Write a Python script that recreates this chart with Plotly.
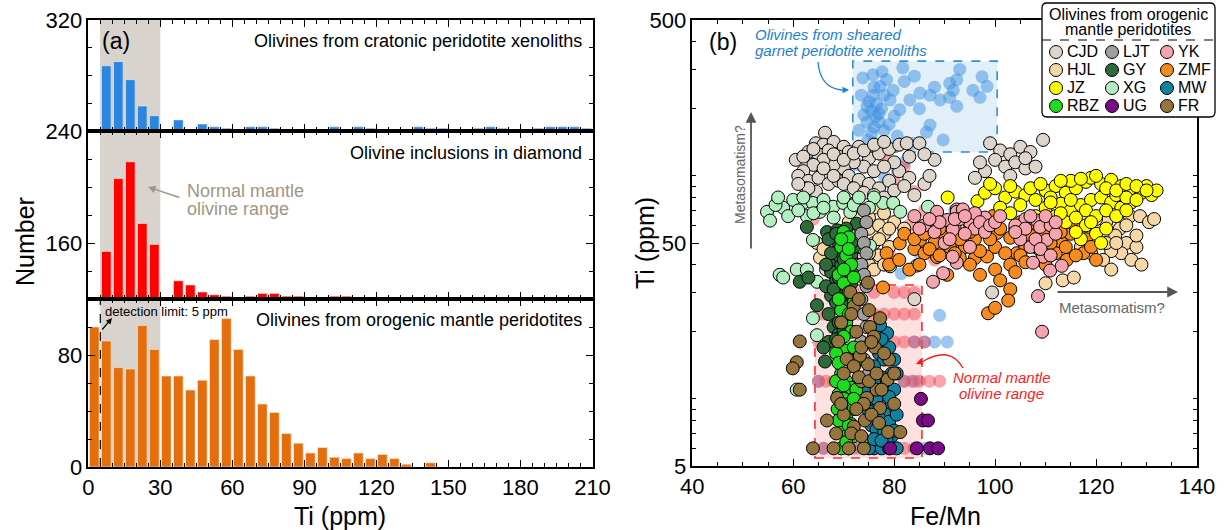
import plotly.graph_objects as go

W, H = 1226, 530

# ---------------- Panel (a): histogram data (5 ppm bins, 0-210 ppm) ----------------
bin_left = list(range(0, 210, 5))
cratonic_counts = [0, 47, 50, 37, 18, 11, 0, 8, 0, 5, 3, 2, 0, 3, 3, 2, 0, 0, 0, 0, 3, 0,
                   3, 2, 0, 0, 0, 3, 2, 2, 0, 0, 2, 3, 2, 0, 0, 2, 3, 3, 3, 2]
diamond_counts = [0, 34, 86, 98, 54, 39, 0, 13, 10, 5, 3, 2, 0, 2, 4, 4, 2, 2, 0, 0, 2, 2,
                  0, 0, 0, 0, 0, 0, 0, 0, 0, 0, 0, 0, 0, 0, 0, 0, 0, 0, 0, 0]
orogenic_counts = [100, 90, 71, 70, 101, 84, 65, 65, 55, 62, 91, 106, 84, 65, 45, 39, 24, 17,
                   10, 14, 7, 6, 10, 6, 9, 6, 2, 0, 3, 0, 0, 0, 0, 0, 0, 0, 0, 0, 0, 0, 0, 0]
panel_bases = [240, 120, 0]
y_tick_labels_a = ["0", "80", "160", "240", "320"]
x_tick_labels_a = ["0", "30", "60", "90", "120", "150", "180", "210"]

# ---------------- Panel (b): Fe/Mn vs Ti scatter ----------------
crat_fe = [73.8, 75.8, 77.6, 81.7, 77.2, 79.8, 83.1, 85.1, 87.1, 89.1, 91, 91.7, 92.4, 75.8, 76.5,
           75.5, 76.3, 77, 76, 75.5, 74.8, 76, 74.6, 74.6, 79.2, 81.1, 87.1, 86.4, 80.6, 89.7, 83.7,
           92.4, 95.6, 97.4, 98.4, 97, 91, 77.5, 78, 73.5, 74, 78.5, 80, 76, 78, 75, 77, 79, 73,
           80, 85, 88, 93, 82, 84,
           80.6, 73, 71, 78, 82, 78.5, 81.4, 89, 67, 70, 84, 86, 88, 90.5, 65, 82, 84, 64, 66, 73,
           84, 86, 76, 85, 92, 97]
crat_ti = [275, 284, 293, 305, 252, 242, 219, 235, 230, 219, 260, 242, 205, 230, 210,
           195, 185, 175, 165, 155, 145, 140, 205, 174, 219, 198, 169, 157, 151, 145, 140,
           270, 242, 278, 252, 225, 225, 200, 160, 230, 188, 270, 185, 250, 230, 215, 190, 170, 160,
           135, 200, 250, 300, 265, 280,
           106, 112, 105, 100, 115, 55.6, 36.4, 23.7, 18, 18, 18, 18, 18, 18, 12, 12, 12, 6, 6, 6,
           6, 6, 60, 45, 70, 60]
diam_fe = [70, 72, 76, 80, 82, 84, 66, 73, 76, 78, 80, 82, 84, 65, 74, 76, 78, 80, 82, 84, 86,
           65, 66.5, 68, 82, 83.5, 85, 87, 89, 66, 68, 70, 72, 74, 76, 78, 80, 82, 84,
           78, 82, 80, 84, 76, 86, 83, 64, 79, 88]
diam_ti = [30, 30, 30, 30, 30, 30, 24, 24, 24, 24, 24, 24, 24, 18, 18, 18, 18, 18, 18, 18, 18,
           12, 12, 12, 12, 12, 12, 12, 12, 6, 6, 6, 6, 6, 6, 6, 6, 6, 6,
           120, 110, 95, 85, 75, 70, 60, 64, 45, 42]

CJD_fe = [66.3, 64.5, 66, 68, 70, 63, 65, 67, 69, 71, 73, 75, 77, 79, 81, 74, 76, 72, 70, 68,
          66, 64, 62, 61, 63, 65, 67, 69, 71, 73, 75, 77, 79, 81, 83, 80, 78, 82.5, 85, 62.5,
          64.5, 86, 60.5, 99, 101, 103, 105, 107, 100, 102, 104, 106, 109.5, 98, 96, 99.4, 108,
          110.5, 95.5, 66.5, 84, 62, 64, 68, 70, 72, 74, 76, 78, 66, 68, 70, 72, 74, 76, 78, 80,
          82, 84, 87, 88, 86, 63, 61, 83, 97, 103, 106, 108]
CJD_ti = [156, 140, 138, 142, 135, 128, 125, 130, 122, 128, 135, 120, 126, 132, 138, 110, 105,
          115, 108, 112, 118, 112, 105, 100, 95, 98, 92, 95, 100, 96, 92, 88, 95, 105, 98, 115,
          110, 140, 140, 88, 85, 92, 118, 140, 130, 125, 135, 128, 118, 110, 115, 108, 145, 105,
          98, 30, 48, 60, 55, 38, 28, 122, 132, 125, 118, 126, 130, 138, 142, 108, 100, 92, 88,
          84, 82, 80, 86, 90, 82, 100, 118, 125, 88, 92, 122, 115, 100, 120, 110]
HJL_fe = [72, 74, 76, 73, 75, 77, 71, 72, 74, 76, 78, 73, 75, 77, 79, 70, 78, 80, 82, 76, 74,
          126.7, 128.7, 124.7, 123.8, 126, 128, 125, 127, 129, 123, 121.4, 123, 118, 120, 122,
          119, 113.4, 115.6, 130.5, 131.5, 117, 110, 64.7, 65.3, 66, 72, 73, 75, 77, 79, 71, 75,
          78, 124, 126, 128, 122, 120]
HJL_ti = [75, 70, 72, 62, 58, 60, 55, 50, 47, 50, 55, 42, 40, 44, 48, 45, 68, 62, 58, 38, 35,
          66, 66, 58, 54, 50, 48, 45, 42, 40, 46, 42, 38, 55, 58, 50, 45, 34, 35, 62, 64, 48, 33,
          50, 43, 47, 65, 68, 65, 52, 58, 62, 45, 40, 50, 60, 54, 62, 64]
XG_fe = [54.8, 55.4, 61.9, 63.9, 62.7, 65.3, 67.9, 69.9, 71.3, 63.9, 57.3, 58, 60.7, 62.7, 64.7,
         63.9, 64.7, 60.7, 77.8, 79.8, 81.2, 86.7, 79.2, 75.2, 84.5, 58, 60, 56.5, 59, 66, 68,
         57, 62, 64, 66, 70, 72, 73, 76, 75, 61]
XG_ti = [69, 63, 75.6, 75.6, 66, 69, 72.7, 75.6, 68.8, 51.6, 36, 35, 38, 38, 33.5, 23, 19.3, 11,
         75.6, 75.6, 69, 72.7, 39.3, 48.6, 39.6, 72, 78, 74, 66, 78, 65, 80, 80, 68, 72, 80, 74,
         80, 80, 72, 70]
GY_fe = [62.7, 66.7, 68.7, 72.6, 70.5, 71, 69, 70, 71.5, 68.5, 69.5, 70.5, 67.5, 68.5, 69.5,
         70.5, 67.5, 68.5, 69.5, 70.5, 68, 69, 67, 66, 64.7, 61.3, 63, 66.3, 72, 72.5, 71.5, 73,
         68, 66.5, 67, 67, 68.5, 70, 71.5, 69, 70, 71, 69, 68, 70, 71, 69, 70, 68.5, 67.5, 66.5]
GY_ti = [59, 56, 57, 61, 58, 52, 50, 47, 44, 42, 40, 38, 37, 34, 32, 30, 29, 27, 25, 23, 21,
         19.5, 18, 17, 26.3, 33.5, 35, 14.7, 48, 40, 33, 38, 45, 32, 24, 52, 55, 54, 50, 44, 42,
         36, 35, 31, 28, 26, 22, 20, 18.5, 45, 40]
LJT_fe = [74, 74.5, 73.5, 74, 74.5, 73.5, 74, 74.5, 73.5, 74, 74.5, 73.5, 74, 75, 73]
LJT_ti = [70, 62, 55, 50, 45, 40, 36, 32, 28, 24, 21, 18, 15, 13, 12]
RBZ_fe = [70, 71, 69.5, 70.5, 71.5, 69, 70, 71, 72, 69.5, 70.5, 71.5, 69, 70, 71, 72, 69.5, 70.5,
          71.5, 69, 70, 71, 72, 69.5, 70.5, 71.5, 70, 71, 72, 71, 68.5, 68.8, 72.5, 72.5, 68.5,
          69.5, 71, 70, 72, 69, 71, 70, 72, 69, 70, 72, 69, 71, 69.5, 70.5]
RBZ_ti = [56, 53, 48, 44, 40, 36, 33, 30, 27, 25, 22, 20, 18, 16.5, 15, 14, 13, 12, 11.2, 10.5,
          10, 9.5, 9, 8.6, 8.2, 7.7, 7.3, 7, 6.8, 6.0, 12, 9, 11, 15, 16, 52, 47, 38, 35, 28, 24,
          19, 17, 14.5, 11.5, 10, 8, 7.6, 6.0, 6.4]
MW_fe = [78.6, 77.2, 79, 77, 78, 76, 79.5, 77.5, 76, 78.5, 80, 77, 75.5, 78, 79.5, 76.5, 78, 77,
         79, 75.5, 76.5, 78, 79.5, 76, 77.5, 79, 80.5, 75, 76, 78.5, 75.5, 77.5, 80, 80.5, 75,
         76.5, 79, 80.5, 75, 77.5, 80]
MW_ti = [19.7, 21.4, 17, 16, 15, 14, 13, 12.5, 12, 11.5, 11, 10.5, 10, 9.7, 9.3, 9, 8.6, 8.2,
         7.9, 7.6, 7.3, 7.1, 6.8, 6, 6, 6, 6, 6, 6.6, 6.5, 18, 18.5, 15, 13, 11, 10, 10.2, 8.5,
         8.8, 6.5, 7.2]
UG_fe = [85.3, 85.7, 86.7, 84.5, 87.1, 88.7, 79.2]
UG_ti = [10, 8, 8, 6, 6, 6, 6]
ZMF_fe = [78.5, 81.1, 85.1, 88.5, 90.5, 77.8, 95, 92.4, 96, 98.4, 100.4, 99.6, 104.3, 103, 106.3,
          113.2, 114.2, 117.5, 112.8, 100, 103, 102.6, 98.6, 100, 82, 84, 86, 88, 90, 92, 94, 96,
          98, 100, 102, 104, 106, 108, 110, 112, 110, 108, 105, 95, 93, 89, 87, 115, 118, 116,
          79, 81, 83, 85, 87, 89, 91, 93, 95, 97, 99, 101, 103, 105, 107, 109, 111, 113, 114,
          116, 119, 120, 84, 86, 92, 97, 101, 104, 106]
ZMF_ti = [45, 49.8, 51.6, 43.3, 36, 31.6, 61, 50, 42.8, 43.5, 55.5, 66, 45, 52.8, 55.5, 50, 42,
          45, 61, 38, 31, 27.6, 24.2, 25.6, 55, 47, 45, 50, 55, 58, 48, 52, 58, 48, 45, 58, 48,
          50, 55, 45, 40, 58, 62, 40, 43, 58, 60, 55, 52, 58, 40, 42, 38, 40, 47, 44, 48, 52, 56,
          46, 52, 58, 40, 44, 54, 46, 50, 56, 48, 44, 48, 42, 52, 55, 45, 36, 34, 37, 41]
JZ_fe = [90.6, 96.5, 98, 100, 102, 104, 101, 103, 106, 108, 110, 112, 114, 116, 118, 119, 121,
         123, 125, 127, 129, 131, 113, 115, 117, 119, 121, 123, 125, 127, 112, 114, 116, 118, 120,
         122, 121, 117, 110, 108, 124, 126, 128, 115, 111, 105, 130, 132, 99, 103, 107, 109, 113,
         117, 120, 122, 124, 126, 128, 130, 111, 113, 115, 118, 120, 122, 124, 126, 119, 116]
JZ_ti = [80, 77, 84, 88, 80, 85, 72, 68, 82, 78, 86, 90, 84, 88, 94, 98, 92, 96, 90, 88, 84, 82,
         75, 70, 74, 78, 80, 76, 72, 76, 66, 62, 65, 60, 55, 58, 50, 52, 72, 66, 82, 80, 78, 95,
         80, 74, 90, 86, 92, 90, 88, 92, 95, 97, 100, 88, 86, 92, 90, 86, 76, 68, 78, 70, 66, 70,
         66, 70, 62, 56]
YK_fe = [90.5, 88.5, 92.4, 91.6, 92.4, 87.7, 89.7, 92.4, 93.6, 108.3, 108.9, 110.2, 109.5, 107.5,
         110.9, 113.2, 108.5, 109.3, 91.6, 84, 86, 88, 95, 96, 98, 94, 106, 104, 111, 110, 112,
         105, 107, 90, 93, 96, 97, 98, 99, 92, 94, 89, 87, 85, 91, 95, 106, 108, 109, 111, 112,
         107, 104, 100, 101]
YK_ti = [63.4, 69, 70.7, 57.4, 40.8, 33.5, 36.6, 69, 70.7, 63, 59, 51.6, 43.4, 40.8, 37.6, 39.5,
         28.9, 20, 43.4, 66, 60, 56, 62, 58, 65, 55, 64, 60, 60, 66, 55, 52, 48, 50, 64, 68, 62,
         56, 60, 64, 66, 62, 64, 58, 52, 48, 58, 52, 47, 44, 62, 66, 56, 62, 66]
FR_fe = [74.8, 71.3, 77.2, 75.2, 61.3, 68.9, 60.7, 59.9, 61.3, 66.7, 63.9, 68.7, 74.6, 77.2, 78.7,
         74.8, 76.2, 70.6, 73.2, 74.2, 78.8, 81.2, 72, 73, 75, 76, 72.5, 73.5, 79, 80, 70, 72, 74,
         68, 71, 73.5, 76.5, 69.5, 71.5, 75.5, 72, 73, 75, 76.5, 77.5, 74, 75.5, 72.5, 71.5,
         73.5, 77, 80, 78, 70, 69.5, 68.5]
FR_ti = [33.2, 30.1, 23, 21, 18.1, 18.1, 14.6, 13.7, 11, 8, 6, 10.1, 10.1, 9.1, 12.2, 14.3, 17,
         15.1, 15.6, 8, 7.1, 7.1, 26, 28, 25, 19, 20, 17, 15, 13, 8.5, 7.5, 6, 6, 6, 12, 11, 22,
         24, 18, 14, 12.5, 12, 13, 11, 9.5, 8.5, 9, 7, 6.8, 7.8, 9.5, 16, 13, 9.5, 7]

group_names = ["CJD", "LJT", "YK", "HJL", "GY", "ZMF", "JZ", "XG", "MW", "RBZ", "UG", "FR"]
group_colors = {"CJD": "#ddd5cb", "LJT": "#a0a0a0", "YK": "#f5a3ad", "HJL": "#f6d8a6",
                "GY": "#2d6b3b", "ZMF": "#f68b1f", "JZ": "#ffff00", "XG": "#b3efc1",
                "MW": "#11819f", "RBZ": "#1fdc1f", "UG": "#7b0a86", "FR": "#95743d"}
group_data = {"CJD": (CJD_fe, CJD_ti), "HJL": (HJL_fe, HJL_ti), "XG": (XG_fe, XG_ti),
              "GY": (GY_fe, GY_ti), "LJT": (LJT_fe, LJT_ti), "RBZ": (RBZ_fe, RBZ_ti),
              "MW": (MW_fe, MW_ti), "UG": (UG_fe, UG_ti), "ZMF": (ZMF_fe, ZMF_ti),
              "JZ": (JZ_fe, JZ_ti), "YK": (YK_fe, YK_ti), "FR": (FR_fe, FR_ti)}
draw_order = ["CJD", "HJL", "XG", "GY", "LJT", "RBZ", "MW", "UG", "ZMF", "JZ", "YK", "FR"]

FONT = "Liberation Sans, Arial, sans-serif"


def px(x):
    return x / W


def py(y):
    return 1 - y / H


fig = go.Figure()

# ---------------- histogram bars ----------------
bar_colors = ["#2a86e2", "#ff0000", "#e46e0c"]
centers = [b + 2.5 for b in bin_left]
for i, (counts, base, col) in enumerate(zip([cratonic_counts, diamond_counts, orogenic_counts],
                                             panel_bases, bar_colors)):
    ax = "" if i == 0 else str(i + 1)
    fig.add_trace(go.Bar(x=centers, y=[c if c > 0 else None for c in counts], base=base,
                         width=4, marker=dict(color=col, line=dict(color="#fbe9df", width=0.6)),
                         xaxis="x" + ax, yaxis="y" + ax, showlegend=False))

# ---------------- scatter ----------------
fig.add_trace(go.Scatter(x=crat_fe, y=crat_ti, mode="markers", xaxis="x4", yaxis="y4",
                         marker=dict(size=13, color="#3b8fe2", opacity=0.5, line=dict(width=0)),
                         showlegend=False))
fig.add_trace(go.Scatter(x=diam_fe, y=diam_ti, mode="markers", xaxis="x4", yaxis="y4",
                         marker=dict(size=13, color="#f04a58", opacity=0.5, line=dict(width=0)),
                         showlegend=False))
for g in draw_order:
    fe, ti = group_data[g]
    fig.add_trace(go.Scatter(x=fe, y=ti, mode="markers", xaxis="x4", yaxis="y4", name=g,
                             marker=dict(size=13, color=group_colors[g],
                                         line=dict(color="black", width=1)),
                             showlegend=False))

# ---------------- axes ----------------
LX = [px(88.3), px(592.5)]
dom_top = [py(131), py(20)]
dom_mid = [py(299), py(131)]
dom_bot = [py(467), py(299)]
tickfont = dict(size=22, color="black", family=FONT)


def axis_common():
    return dict(showline=True, linecolor="black", linewidth=1.5, ticks="inside", ticklen=7,
                tickwidth=1.2, tickcolor="black", mirror="allticks", showgrid=False,
                zeroline=False, tickfont=tickfont, automargin=False)


xt = [0, 30, 60, 90, 120, 150, 180, 210]
xminor = dict(ticks="inside", ticklen=4, tickwidth=1, tickcolor="black", tickmode="array",
              tickvals=[v for v in range(0, 211, 5) if v % 30 != 0], showgrid=False)
for i, dom in enumerate([dom_top, dom_mid, dom_bot]):
    ax = "" if i == 0 else str(i + 1)
    xa = axis_common()
    xa.update(domain=LX, range=[0, 210], anchor="y" + ax, tickmode="array", tickvals=xt,
              ticktext=x_tick_labels_a, showticklabels=(i == 2), minor=xminor)
    fig.layout["xaxis" + ax] = xa

ya = axis_common()
ya.update(domain=dom_top, range=[240, 320], anchor="x", tickmode="array", tickvals=[240, 320],
          ticktext=[y_tick_labels_a[3], y_tick_labels_a[4]],
          minor=dict(ticks="inside", ticklen=4, tickwidth=1, tickcolor="black", tickmode="array",
                     tickvals=[260, 280, 300]))
fig.layout.yaxis = ya
ya2 = axis_common()
ya2.update(domain=dom_mid, range=[120, 240], anchor="x2", tickmode="array", tickvals=[160],
           ticktext=[y_tick_labels_a[2]],
           minor=dict(ticks="inside", ticklen=4, tickwidth=1, tickcolor="black", tickmode="array",
                      tickvals=[140, 180, 200, 220]))
fig.layout.yaxis2 = ya2
ya3 = axis_common()
ya3.update(domain=dom_bot, range=[0, 120], anchor="x3", tickmode="array", tickvals=[0, 80],
           ticktext=[y_tick_labels_a[0], y_tick_labels_a[1]],
           minor=dict(ticks="inside", ticklen=4, tickwidth=1, tickcolor="black", tickmode="array",
                      tickvals=[20, 40, 60, 100]))
fig.layout.yaxis3 = ya3

xa4 = axis_common()
xa4.update(domain=[px(692.3), px(1197)], range=[40, 140], anchor="y4", tickmode="array",
           tickvals=[40, 60, 80, 100, 120, 140],
           minor=dict(ticks="inside", ticklen=4, tickwidth=1, tickcolor="black", tickmode="array",
                      tickvals=[v for v in range(45, 140, 5) if v % 20 != 0]))
fig.layout.xaxis4 = xa4
ya4 = axis_common()
ya4.update(domain=[py(466), py(20)], type="log", range=[0.69897, 2.69897], anchor="x4",
           tickmode="array", tickvals=[5, 50, 500], ticktext=["5", "50", "500"],
           minor=dict(ticks="inside", ticklen=4, tickwidth=1, tickcolor="black", tickmode="array",
                      tickvals=[6, 7, 8, 9, 10, 20, 30, 40, 60, 70, 80, 90, 100, 200, 300, 400]))
fig.layout.yaxis4 = ya4

# ---------------- shapes ----------------
shapes = []
for i in range(3):
    ax = "" if i == 0 else str(i + 1)
    shapes.append(dict(type="rect", xref="x" + ax, yref="y" + ax + " domain", x0=5 if i == 2 else 4.9,
                       x1=30, y0=0, y1=1, fillcolor="#d9d3cd", line=dict(width=0), layer="below"))
shapes.append(dict(type="line", xref="x3", yref="y3 domain", x0=5, x1=5, y0=0, y1=1,
                   line=dict(color="black", width=1.2, dash="dash"), layer="above"))
# boxes in panel b
shapes.append(dict(type="rect", xref="x4", yref="y4", x0=71.8, x1=100.4, y0=128, y1=327,
                   fillcolor="rgba(170,210,235,0.35)", line=dict(color="#2f8fd8", width=1.6,
                                                               dash="dash"), layer="below"))
shapes.append(dict(type="rect", xref="x4", yref="y4", x0=64.3, x1=85.5, y0=5.43, y1=32.4,
                   fillcolor="rgba(250,170,170,0.35)", line=dict(color="#ff2a2a", width=1.6,
                                                               dash="dash"), layer="below"))


def P(x, y):
    return f"{px(x):.5f},{py(y):.5f}"


# curved arrows
shapes.append(dict(type="path", xref="paper", yref="paper",
                   path=f"M {P(818, 62)} Q {P(820, 88)} {P(842, 90)}",
                   line=dict(color="#1a80d0", width=1.3), layer="above"))
shapes.append(dict(type="path", xref="paper", yref="paper",
                   path=f"M {P(963, 368)} Q {P(950, 345)} {P(922, 362)}",
                   line=dict(color="#ff1a1a", width=1.3), layer="above"))


# legend box
def rrect(x0, y0, x1, y1, r):
    return (f"M {P(x0 + r, y0)} L {P(x1 - r, y0)} Q {P(x1, y0)} {P(x1, y0 + r)} "
            f"L {P(x1, y1 - r)} Q {P(x1, y1)} {P(x1 - r, y1)} L {P(x0 + r, y1)} "
            f"Q {P(x0, y1)} {P(x0, y1 - r)} L {P(x0, y0 + r)} Q {P(x0, y0)} {P(x0 + r, y0)} Z")


shapes.append(dict(type="path", xref="paper", yref="paper", path=rrect(1042, 3, 1215, 117, 5),
                   fillcolor="white", line=dict(color="black", width=1.3), layer="above"))
shapes.append(dict(type="line", xref="paper", yref="paper", x0=px(1042), x1=px(1215),
                   y0=py(40), y1=py(40), line=dict(color="black", width=1.2, dash="dash"),
                   layer="above"))
leg_cols = [1056, 1112, 1167]
leg_rows = [52, 70, 88, 106]
annotations = []
for k, g in enumerate(group_names):
    cx = leg_cols[k % 3]
    cy = leg_rows[k // 3]
    shapes.append(dict(type="circle", xref="paper", yref="paper", xsizemode="pixel",
                       ysizemode="pixel", xanchor=px(cx), yanchor=py(cy), x0=-6.5, x1=6.5,
                       y0=-6.5, y1=6.5, fillcolor=group_colors[g],
                       line=dict(color="black", width=1), layer="above"))
    annotations.append(dict(x=px(cx + 9), y=py(cy), xref="paper", yref="paper", text=g,
                            showarrow=False, xanchor="left", yanchor="middle",
                            font=dict(size=16, color="black", family=FONT)))


def A(x, y, text, size, color="black", xanchor="center", angle=0, italic=False):
    annotations.append(dict(x=px(x), y=py(y), xref="paper", yref="paper", text=text,
                            showarrow=False, xanchor=xanchor, yanchor="middle",
                            textangle=angle,
                            font=dict(size=size, color=color, family=FONT,
                                      style="italic" if italic else "normal")))


def ARROW(x, y, axp, ayp, color, width=1.3, head=2, size=1.0):
    annotations.append(dict(x=px(x), y=py(y), xref="paper", yref="paper", text="",
                            showarrow=True, ax=axp, ay=ayp, arrowhead=head, arrowsize=size,
                            arrowwidth=width, arrowcolor=color))


A(100, 41, "(a)", 23, xanchor="left")
A(584, 41, "Olivines from cratonic peridotite xenoliths", 18, xanchor="right")
A(584, 153, "Olivine inclusions in diamond", 18, xanchor="right")
A(584, 320, "Olivines from orogenic mantle peridotites", 18, xanchor="right")
A(185, 191, "Normal mantle", 18, color="#a29486", xanchor="left")
A(185, 209, "olivine range", 18, color="#a29486", xanchor="left")
ARROW(148, 187, 33, 11, "#a29486", width=1.5)
A(103, 311, "detection limit: 5 ppm", 13, xanchor="left")
ARROW(112, 318, -11, 13, "black", width=1.2)
A(25, 242, "Number", 25, angle=-90)
A(340, 516, "Ti (ppm)", 25)

A(707, 42, "(b)", 23, xanchor="left")
A(753, 35, "Olivines from sheared", 15, color="#1a80d0", xanchor="left", italic=True)
A(753, 51, "garnet peridotite xenoliths", 15, color="#1a80d0", xanchor="left", italic=True)
ARROW(849, 90, -8, 0, "#1a80d0", width=1.3)
A(1002, 377, "Normal mantle", 15, color="#ff1a1a", italic=True)
A(1001, 393, "olivine range", 15, color="#ff1a1a", italic=True)
ARROW(916, 364, 7, -3, "#ff1a1a", width=1.3)
A(740, 175, "Metasomatism?", 14, color="#666666", angle=-90)
ARROW(751, 112, 0, 138, "#555555", width=1.8, head=2, size=1.2)
A(1057, 307, "Metasomatism?", 15, color="#666666", xanchor="left")
ARROW(1178, 292, -122, 0, "#555555", width=1.8, head=2, size=1.2)
A(645, 243, "Ti (ppm)", 25, angle=-90)
A(945, 516, "Fe/Mn", 25)
A(1128, 15, "Olivines from orogenic", 16)
A(1128, 30, "mantle peridotites", 16)

fig.update_layout(width=W, height=H,
                  margin=dict(l=0, r=0, t=0, b=0, pad=0, autoexpand=False),
                  paper_bgcolor="white", plot_bgcolor="white", shapes=shapes,
                  annotations=annotations, font=dict(family=FONT, color="black"),
                  barmode="overlay", showlegend=False)
fig.write_html("out.html")
